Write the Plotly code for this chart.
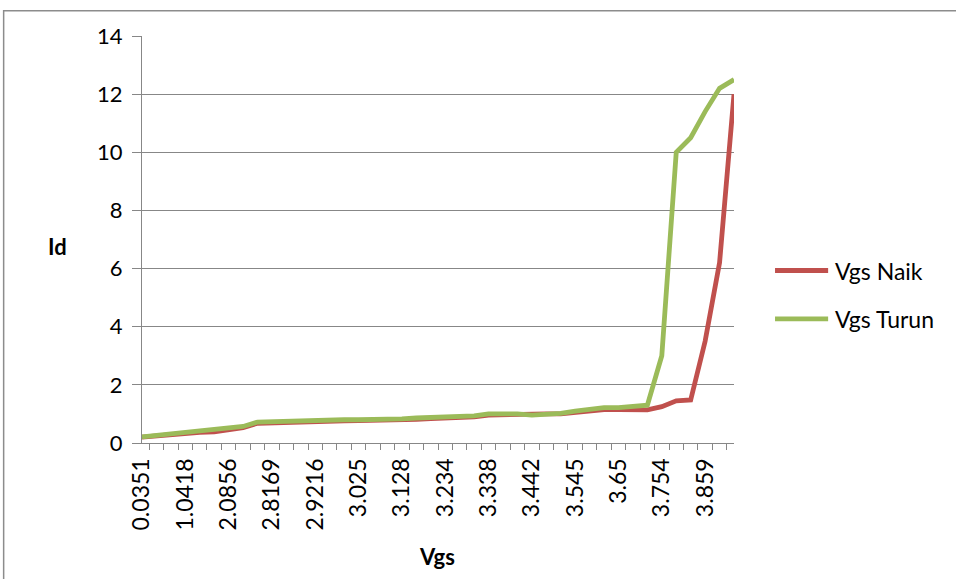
import plotly.graph_objects as go

# Gate-source voltage sweep (V) used as category labels on the x axis
vgs = [
    "0.0351", "0.3713", "0.7065", "1.0418", "1.3897", "1.7376",
    "2.0856", "2.3293", "2.5731", "2.8169", "2.8518", "2.8867",
    "2.9216", "2.9561", "2.9905", "3.025", "3.0593", "3.0937",
    "3.128", "3.163", "3.198", "3.234", "3.269", "3.303",
    "3.338", "3.373", "3.407", "3.442", "3.476", "3.511",
    "3.545", "3.580", "3.615", "3.65", "3.685", "3.719",
    "3.754", "3.789", "3.824", "3.859", "3.894", "3.928",
]

# Drain current readings for the rising sweep
id_naik = [
    0.20, 0.25, 0.29, 0.33, 0.37, 0.38, 0.44, 0.53, 0.68, 0.70,
    0.72, 0.73, 0.74, 0.75, 0.76, 0.77, 0.77, 0.78, 0.79, 0.81,
    0.84, 0.86, 0.86, 0.90, 0.96, 0.98, 1.00, 1.00, 1.00, 1.00,
    1.05, 1.10, 1.15, 1.15, 1.14, 1.14, 1.25, 1.45, 1.48, 3.50,
    6.20, 12.00,
]

# Drain current readings for the falling sweep
id_turun = [
    0.21, 0.26, 0.31, 0.35, 0.40, 0.46, 0.51, 0.57, 0.72, 0.74,
    0.75, 0.76, 0.78, 0.79, 0.80, 0.80, 0.80, 0.81, 0.83, 0.86,
    0.88, 0.88, 0.88, 0.93, 1.00, 1.02, 1.00, 0.96, 0.98, 1.02,
    1.10, 1.18, 1.22, 1.22, 1.24, 1.30, 3.00, 10.00, 10.50, 11.40,
    12.20, 12.50,
]

series_names = ["Vgs Naik", "Vgs Turun"]
series_colors = ["#C0504D", "#9BBB59"]

# Only every third category carries a visible label
tick_text = [v if i % 3 == 0 else "" for i, v in enumerate(vgs)]

FONT = "Lato, Carlito, Calibri, sans-serif"
GRID = "#878787"

fig = go.Figure()
for name, ys, col in zip(series_names, [id_naik, id_turun], series_colors):
    fig.add_trace(go.Scatter(
        x=vgs, y=ys, mode="lines", name=name,
        line=dict(color=col, width=4.8),
        showlegend=False,
    ))

fig.update_layout(
    width=956, height=579,
    margin=dict(l=142, r=222, t=36, b=136),
    paper_bgcolor="white", plot_bgcolor="white",
    font=dict(family=FONT, color="black", size=21),
    xaxis=dict(
        type="category",
        tickmode="array", tickvals=vgs, ticktext=tick_text,
        tickson="boundaries", ticks="outside", ticklen=6,
        tickcolor=GRID, tickwidth=1.3,
        tickangle=-90, tickfont=dict(size=23),
        ticklabelstandoff=5,
        showline=True, linecolor=GRID, linewidth=1.3,
        showgrid=False, zeroline=False,
    ),
    yaxis=dict(
        range=[0, 14], dtick=2, tick0=0,
        ticks="outside", ticklen=9, tickcolor=GRID, tickwidth=1.3,
        ticklabelstandoff=5,
        showline=True, linecolor=GRID, linewidth=1.3,
        showgrid=True, gridcolor=GRID, gridwidth=1.3,
        zeroline=False, tickfont=dict(size=22),
    ),
)

# Axis titles
fig.add_annotation(text="<b>Id</b>", xref="paper", yref="paper",
                   x=-0.1425, y=0.482, xanchor="center", yanchor="middle",
                   showarrow=False, font=dict(size=22, family=FONT))
fig.add_annotation(text="<b>Vgs</b>", xref="paper", yref="paper",
                   x=0.498, y=-0.279, xanchor="center", yanchor="middle",
                   showarrow=False, font=dict(size=22, family=FONT))

# Legend entries at the right of the plot
legend_y = [0.4238, 0.3052]
for name, col, ly in zip(series_names, series_colors, legend_y):
    fig.add_shape(type="line", xref="paper", yref="paper",
                  x0=1.0693, x1=1.159, y0=ly, y1=ly,
                  line=dict(color=col, width=4.8))
    fig.add_annotation(text=name, xref="paper", yref="paper",
                       x=1.1673, y=ly, xanchor="left", yanchor="middle",
                       showarrow=False, font=dict(size=23, family=FONT))

# Outer chart frame
fig.add_shape(type="rect", xref="paper", yref="paper",
              x0=-0.2337, x1=1.40, y0=-0.36, y1=1.0623,
              line=dict(color="#8C8C8C", width=1.5), layer="below")

fig.write_html("out.html")
